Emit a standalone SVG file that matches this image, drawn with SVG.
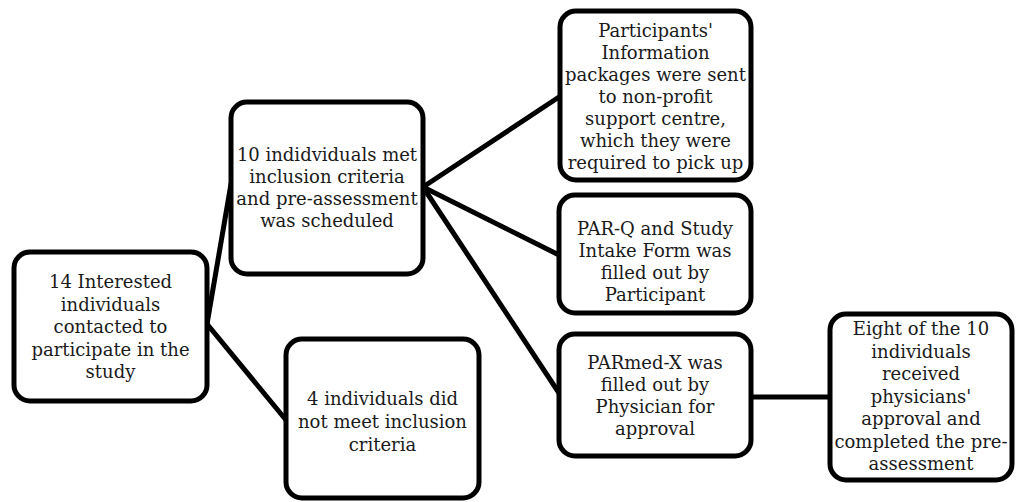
<svg xmlns="http://www.w3.org/2000/svg" width="1016" height="502" viewBox="0 0 1016 502">
<style>
.box{fill:#fff;stroke:#000;stroke-width:5}
.t{font-family:"DejaVu Serif","Liberation Serif",serif;font-size:18px;fill:#1a1a1a;text-anchor:middle}
.c{stroke:#000;stroke-width:5;fill:none;stroke-linecap:round}
</style>
<rect width="1016" height="502" fill="#fff"/>
<g id="connectors">
<line class="c" x1="207" y1="324" x2="231" y2="184"/>
<line class="c" x1="207" y1="324" x2="286" y2="420"/>
<line class="c" x1="423" y1="187" x2="559" y2="97"/>
<line class="c" x1="423" y1="187" x2="559" y2="255"/>
<line class="c" x1="423" y1="187" x2="559" y2="393"/>
<line class="c" x1="751" y1="397" x2="830" y2="397"/>
</g>
<g id="n1">
<rect class="box" x="14" y="252" width="193" height="149" rx="16"/>
<text class="t"><tspan x="110.5" y="288">14 Interested</tspan><tspan x="110.5" y="310.5">individuals</tspan><tspan x="110.5" y="333">contacted to</tspan><tspan x="110.5" y="355.5">participate in the</tspan><tspan x="110.5" y="378">study</tspan></text>
</g>
<g id="n2">
<rect class="box" x="231" y="102" width="192" height="172" rx="16"/>
<text class="t"><tspan x="327" y="161">10 indidviduals met</tspan><tspan x="327" y="183">inclusion criteria</tspan><tspan x="327" y="205">and pre-assessment</tspan><tspan x="327" y="227">was scheduled</tspan></text>
</g>
<g id="n3">
<rect class="box" x="286" y="339" width="193" height="159" rx="16"/>
<text class="t"><tspan x="382.5" y="405">4 individuals did</tspan><tspan x="382.5" y="428">not meet inclusion</tspan><tspan x="382.5" y="451">criteria</tspan></text>
</g>
<g id="n4">
<rect class="box" x="560" y="11" width="191" height="169" rx="16"/>
<text class="t"><tspan x="655.5" y="37">Participants'</tspan><tspan x="655.5" y="59">Information</tspan><tspan x="655.5" y="81">packages were sent</tspan><tspan x="655.5" y="103">to non-profit</tspan><tspan x="655.5" y="125">support centre,</tspan><tspan x="655.5" y="147">which they were</tspan><tspan x="655.5" y="169">required to pick up</tspan></text>
</g>
<g id="n5">
<rect class="box" x="559" y="195" width="192" height="118" rx="16"/>
<text class="t"><tspan x="655" y="235">PAR-Q and Study</tspan><tspan x="655" y="257">Intake Form was</tspan><tspan x="655" y="279">filled out by</tspan><tspan x="655" y="301">Participant</tspan></text>
</g>
<g id="n6">
<rect class="box" x="559" y="334" width="192" height="122" rx="16"/>
<text class="t"><tspan x="655" y="369">PARmed-X was</tspan><tspan x="655" y="391">filled out by</tspan><tspan x="655" y="413">Physician for</tspan><tspan x="655" y="435">approval</tspan></text>
</g>
<g id="n7">
<rect class="box" x="830" y="314" width="182" height="166" rx="16"/>
<text class="t"><tspan x="921" y="335">Eight of the 10</tspan><tspan x="921" y="357.5">individuals</tspan><tspan x="921" y="380">received</tspan><tspan x="921" y="402.5">physicians'</tspan><tspan x="921" y="425">approval and</tspan><tspan x="921" y="447.5">completed the pre-</tspan><tspan x="921" y="470">assessment</tspan></text>
</g>
</svg>
